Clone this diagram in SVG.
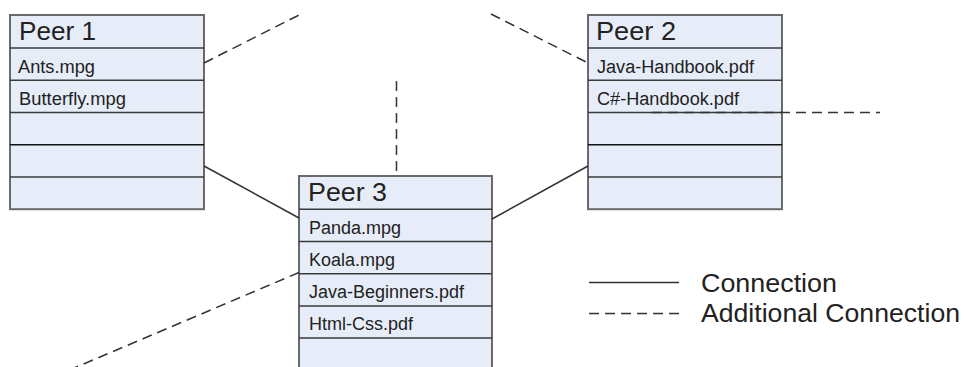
<svg xmlns="http://www.w3.org/2000/svg" width="966" height="367" viewBox="0 0 966 367">
<style>
.box{fill:#e6edf8;stroke:#6a6a6a;stroke-width:2}
.div{stroke:#3a3a3a;stroke-width:1.5}
.t{font-family:"Liberation Sans",Arial,sans-serif;fill:#222}
.title{font-size:26px}
.item{font-size:18px}
.leg{font-size:26.5px}
.solid{stroke:#333;stroke-width:1.5;fill:none}
.dash{stroke:#333;stroke-width:1.5;fill:none;stroke-dasharray:10 6}
</style>
<rect width="966" height="367" fill="#fff"/>
<g id="peer1">
<rect class="box" x="10" y="15" width="194" height="194.2"/>
<line class="div" x1="10" y1="48" x2="204" y2="48"/>
<line class="div" x1="10" y1="80.3" x2="204" y2="80.3"/>
<line class="div" x1="10" y1="112.5" x2="204" y2="112.5"/>
<line class="div" x1="10" y1="144.7" x2="204" y2="144.7" style="stroke:#111"/>
<line class="div" x1="10" y1="177" x2="204" y2="177"/>
<text class="t title" x="19" y="39.5" textLength="77" lengthAdjust="spacingAndGlyphs">Peer 1</text>
<text class="t item" x="18" y="73" textLength="77" lengthAdjust="spacingAndGlyphs">Ants.mpg</text>
<text class="t item" x="19" y="105" textLength="107" lengthAdjust="spacingAndGlyphs">Butterfly.mpg</text>
</g>
<g id="peer2">
<rect class="box" x="588" y="15" width="194" height="194.2"/>
<line class="div" x1="588" y1="48" x2="782" y2="48"/>
<line class="div" x1="588" y1="80.3" x2="782" y2="80.3"/>
<line class="div" x1="588" y1="112.5" x2="782" y2="112.5"/>
<line class="div" x1="588" y1="144.7" x2="782" y2="144.7" style="stroke:#111"/>
<line class="div" x1="588" y1="177" x2="782" y2="177"/>
<text class="t title" x="596" y="39.5" textLength="80" lengthAdjust="spacingAndGlyphs">Peer 2</text>
<text class="t item" x="597" y="73" textLength="157" lengthAdjust="spacingAndGlyphs">Java-Handbook.pdf</text>
<text class="t item" x="597" y="105" textLength="142" lengthAdjust="spacingAndGlyphs">C#-Handbook.pdf</text>
</g>
<g id="peer3">
<rect class="box" x="299" y="176" width="193" height="200"/>
<line class="div" x1="299" y1="209.3" x2="492" y2="209.3"/>
<line class="div" x1="299" y1="241.5" x2="492" y2="241.5"/>
<line class="div" x1="299" y1="273.7" x2="492" y2="273.7"/>
<line class="div" x1="299" y1="305.9" x2="492" y2="305.9"/>
<line class="div" x1="299" y1="338.1" x2="492" y2="338.1"/>
<text class="t title" x="308" y="200.5" textLength="79" lengthAdjust="spacingAndGlyphs">Peer 3</text>
<text class="t item" x="309" y="233.5" textLength="92" lengthAdjust="spacingAndGlyphs">Panda.mpg</text>
<text class="t item" x="309" y="265.5" textLength="86" lengthAdjust="spacingAndGlyphs">Koala.mpg</text>
<text class="t item" x="309" y="297.5" textLength="155" lengthAdjust="spacingAndGlyphs">Java-Beginners.pdf</text>
<text class="t item" x="309" y="329.5" textLength="104" lengthAdjust="spacingAndGlyphs">Html-Css.pdf</text>
</g>
<g id="connectors">
<line class="dash" x1="204" y1="63" x2="301" y2="14"/>
<line class="dash" x1="491" y1="14" x2="588" y2="63"/>
<line class="dash" x1="396.5" y1="81" x2="396.5" y2="176"/>
<line class="dash" x1="652" y1="112.5" x2="880" y2="112.5"/>
<line class="solid" x1="204" y1="166" x2="299" y2="218"/>
<line class="solid" x1="492" y1="219" x2="588" y2="166"/>
<line class="dash" x1="299" y1="272.5" x2="60" y2="374"/>
</g>
<g id="legend">
<line class="solid" x1="589" y1="282.5" x2="679" y2="282.5"/>
<line class="dash" x1="589" y1="313.5" x2="679" y2="313.5"/>
<text class="t leg" x="701" y="291.5" textLength="136" lengthAdjust="spacingAndGlyphs">Connection</text>
<text class="t leg" x="701" y="322" textLength="259" lengthAdjust="spacingAndGlyphs">Additional Connection</text>
</g>
</svg>
